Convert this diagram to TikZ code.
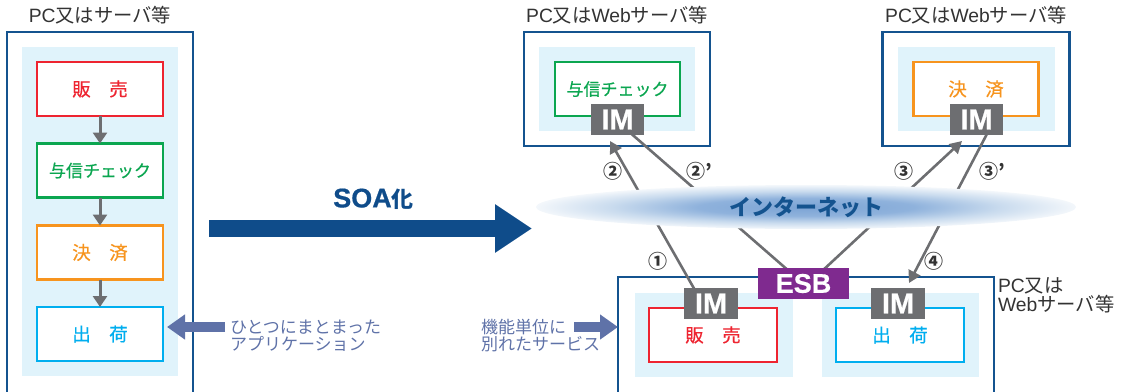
\documentclass[tikz,border=0pt]{standalone}
\usepackage{fontspec}
\setmainfont{Noto Sans CJK JP}
\newfontfamily\latf{Liberation Sans}
\newfontfamily\heavyf[FakeBold=0.6]{Liberation Sans Bold}
\newfontfamily\medf[FakeBold=0.5]{Noto Sans CJK JP}
\usetikzlibrary{arrows.meta,shapes.geometric}
\newcommand{\fsz}[1]{\fontsize{#1pt}{#1pt}\selectfont}
\definecolor{navy}{HTML}{14538F}
\definecolor{panel}{HTML}{E0F3FB}
\definecolor{redc}{HTML}{EE2430}
\definecolor{greenc}{HTML}{0BA650}
\definecolor{orangec}{HTML}{F7941E}
\definecolor{bluec}{HTML}{00AEEF}
\definecolor{grayc}{HTML}{6D6E71}
\definecolor{slate}{HTML}{5F72A8}
\definecolor{esbc}{HTML}{7F2A8F}
\definecolor{txt}{HTML}{333333}
\definecolor{soac}{HTML}{0F4C8A}
\definecolor{cloudA}{HTML}{7BA3D4}
\definecolor{cloudB}{HTML}{8FB2DC}
\definecolor{cloudC}{HTML}{C9DBEE}
\definecolor{cloudD}{HTML}{F3F7FB}
\pgfdeclareradialshading{cloud}{\pgfpoint{0bp}{0bp}}{color(0bp)=(cloudA);color(10bp)=(cloudB);color(18bp)=(cloudC);color(25bp)=(cloudD);color(50bp)=(cloudD)}
\tikzset{
  base/.style={rectangle,outer sep=0pt,inner sep=0pt},
  host/.style={base,draw=navy,line width=2.8pt,fill=white},
  bgpanel/.style={base,fill=panel},
  svc/.style={base,line width=2.7pt,fill=white,minimum width=#1,minimum height=54pt,font=\fsz{18.5}\medf},
  svc/.default=126pt,
  katakana/.style={font=\fsz{17}\medf},
  imbox/.style={base,fill=grayc,text=white,font=\fsz{29}\heavyf,minimum height=31pt},
  flow/.style={draw=grayc,line width=3pt,-{Triangle[length=11pt,width=14pt]}},
  link/.style={draw=grayc,line width=2.6pt},
  linka/.style={link,-{Triangle[length=12pt,width=13pt]}},
  callout/.style={draw=slate,line width=10pt,-{Triangle[length=18pt,width=24pt]}},
  hosttxt/.style={base,text=txt,font=\fsz{19.3},align=left},
  notetxt/.style={base,text=slate,font=\fsz{17},align=left},
  num/.style={base,text=txt,font=\fsz{19}\bfseries},
}
\begin{document}
\begin{tikzpicture}[x=1pt,y=-1pt]
\useasboundingbox (0,0) rectangle (1126,391);
% left host
\node[hosttxt] (t1) at (100,15) {{\latf PC}又はサーバ等};
\node[host,minimum width=186pt,minimum height=366pt] (h1) at (100,215) {};
\node[bgpanel,minimum width=156pt,minimum height=329pt] (p1) at (100,211.5) {};
\node[svc,draw=redc,text=redc] (a1) at (100,89) {販　売};
\node[svc,draw=greenc,text=greenc,katakana] (a2) at (100,170.5) {与信チェック};
\node[svc,draw=orangec,text=orangec] (a3) at (100,252.5) {決　済};
\node[svc,draw=bluec,text=bluec] (a4) at (100,334) {出　荷};
\draw[flow] (a1) -- (a2);
\draw[flow] (a2) -- (a3);
\draw[flow] (a3) -- (a4);
% soa
\coordinate (soaS) at (209,228.5);
\coordinate (soaE) at (532,228.5);
\draw[draw=soac,line width=17pt,-{Triangle[length=37pt,width=46pt]}] (soaS) -- (soaE);
\node[base,text=soac,font=\fsz{27}\heavyf] (soa) at (373.5,199) {SOA\fsz{22}\normalfont\bfseries 化};
% upper hosts
\node[hosttxt] (t2) at (617,15) {{\latf PC}又は{\latf Web}サーバ等};
\node[host,minimum width=186pt,minimum height=114pt] (h2) at (617,89) {};
\node[bgpanel,minimum width=156pt,minimum height=84pt] (p2) at (617,89) {};
\node[svc=125pt,draw=greenc,text=greenc,katakana] (b1) at (617.5,89) {与信チェック};
\node[hosttxt] (t3) at (976,15) {{\latf PC}又は{\latf Web}サーバ等};
\node[host,minimum width=187pt,minimum height=114pt] (h3) at (976,89) {};
\node[bgpanel,minimum width=157pt,minimum height=84pt] (p3) at (976,89) {};
\node[svc=125pt,draw=orangec,text=orangec] (b2) at (976,89) {決　済};
% lower host
\node[hosttxt,anchor=west] (t4) at (998,295) {{\latf PC}又は\\{\latf Web}サーバ等};
\node[host,minimum width=376pt,minimum height=118pt] (h4) at (806,336) {};
\node[bgpanel,minimum width=158pt,minimum height=84pt] (p4) at (714,335) {};
\node[bgpanel,minimum width=157pt,minimum height=84pt] (p5) at (900.5,335) {};
\node[svc=128pt,draw=redc,text=redc] (c1) at (713,335) {販　売};
\node[svc=128pt,draw=bluec,text=bluec] (c2) at (900,335) {出　荷};
% connectors
\coordinate (in2) at (610,141);
\coordinate (out2) at (627,130);
\coordinate (in3) at (962,141);
\coordinate (out3) at (989,130);
\coordinate (out1) at (696,292);
\coordinate (in4) at (909,283);
\coordinate (esbL) at (790,272);
\coordinate (esbR) at (821,272);
\draw[linka] (out1) -- (in2);
\draw[link] (out2) -- (esbL);
\draw[linka] (esbR) -- (in3);
\draw[linka] (out3) -- (in4);
% internet
\node[ellipse,shading=cloud,minimum width=540pt,minimum height=44pt,inner sep=0pt,outer sep=0pt] (net) at (806,207) {};
\node[base,text=navy,font=\fsz{22}\bfseries] (nett) at (806,207) {インターネット};
% IM & ESB
\node[imbox,minimum width=53pt] (im1) at (617.5,119.5) {IM};
\node[imbox,minimum width=53pt] (im2) at (976.5,119.5) {IM};
\node[imbox,minimum width=54pt] (im3) at (711,303.5) {IM};
\node[imbox,minimum width=54pt] (im4) at (898,303.5) {IM};
\node[base,fill=esbc,text=white,font=\fsz{27}\heavyf,minimum width=91pt,minimum height=31pt] (esb) at (803.5,283.5) {ESB};
% labels
\node[num] (n2) at (613,171) {②};
\node[num] (n2p) at (699,171) {②’};
\node[num] (n3) at (904,171) {③};
\node[num] (n3p) at (992,171) {③’};
\node[num] (n1) at (658,261) {①};
\node[num] (n4) at (934,261) {④};
% callouts
\coordinate (cA) at (225,327);
\coordinate (cAtip) at (167,327);
\coordinate (cB) at (574,327);
\coordinate (cBtip) at (618,327);
\draw[callout] (cA) -- (cAtip);
\draw[callout] (cB) -- (cBtip);
\node[notetxt,anchor=west] (note1) at (230,336) {ひとつにまとまった\\アプリケーション};
\node[notetxt,anchor=west] (note2) at (481,336) {機能単位に\\別れたサービス};
\end{tikzpicture}
\end{document}
